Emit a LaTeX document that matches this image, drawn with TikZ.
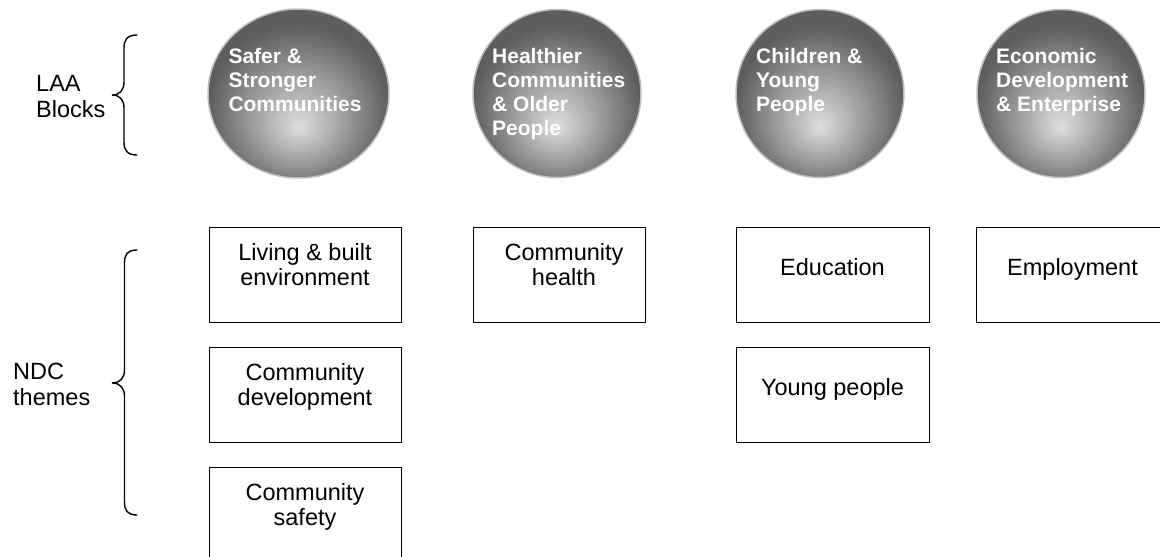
\documentclass[tikz,border=0pt]{standalone}
\usepackage{fontspec}
\setmainfont{Liberation Sans}
\usetikzlibrary{shapes.geometric}
\pgfdeclareradialshading{laaball}{\pgfpoint{0bp}{-10bp}}{color(0bp)=(black!13); color(25bp)=(black!63); color(50bp)=(black!63)}
\newcommand\cenlines[1]{\begin{tabular}[t]{@{}c@{}}#1\end{tabular}}
\newcommand\leftlines[1]{\begin{tabular}[t]{@{}l@{}}#1\end{tabular}}
\begin{document}
\begin{tikzpicture}[x=1pt,y=-1pt,
  ballshape/.style={draw=black!25, line width=1.5pt, shading=laaball, inner sep=0pt},
  balltext/.style={anchor=base west, inner sep=0pt, text=white, font=\fontsize{21}{24}\selectfont\bfseries},
  themebox/.style={draw=black, line width=1.3pt, rectangle, anchor=north west, inner sep=0pt, minimum height=95.5pt},
  boxtext/.style={anchor=base, inner sep=0pt, font=\fontsize{23.5}{25}\selectfont},
  sidelabel/.style={anchor=base west, inner sep=0pt, font=\fontsize{23.5}{26}\selectfont},
  bracepath/.style={draw=black, line width=1.4pt, line cap=round}]
\useasboundingbox (0,0) rectangle (1160,557);
\clip (0,0) rectangle (1160,557);
\fill[white] (0,0) rectangle (1160,557);

% LAA blocks (circles)
\node[ballshape, ellipse, minimum width=181pt, minimum height=169pt] (c1) at (298.5,93.5) {};
\node[ballshape, circle, minimum size=168pt] (c2) at (557,93.5) {};
\node[ballshape, circle, minimum size=168pt] (c3) at (820,93.5) {};
\node[ballshape, circle, minimum size=168pt] (c4) at (1061,93.5) {};

\node[balltext] (ct1) at (228.3,63) {\leftlines{Safer \&\\Stronger\\Communities}};
\node[balltext] (ct2) at (492,63) {\leftlines{Healthier\\Communities\\\& Older\\People}};
\node[balltext] (ct3) at (756,63) {\leftlines{Children \&\\Young\\People}};
\node[balltext] (ct4) at (996,63) {\leftlines{Economic\\Development\\\& Enterprise}};

% NDC themes (boxes)
\node[themebox, minimum width=192pt] (b1) at (209,226.5) {};
\node[themebox, minimum width=172pt] (b2) at (473,226.5) {};
\node[themebox, minimum width=193pt] (b3) at (736,226.5) {};
\node[themebox, minimum width=193pt] (b4) at (976,226.5) {};
\node[themebox, minimum width=192pt] (b5) at (209,346.5) {};
\node[themebox, minimum width=193pt] (b6) at (736,346.5) {};
\node[themebox, minimum width=192pt] (b7) at (209,466.5) {};

\node[boxtext] (bt1) at (305,260) {\cenlines{Living \& built\\environment}};
\node[boxtext] (bt2) at (564,260) {\cenlines{Community\\health}};
\node[boxtext] (bt3) at (832.5,275) {Education};
\node[boxtext] (bt4) at (1072.5,275) {Employment};
\node[boxtext] (bt5) at (305,380) {\cenlines{Community\\development}};
\node[boxtext] (bt6) at (832.5,395) {Young people};
\node[boxtext] (bt7) at (305,500) {\cenlines{Community\\safety}};

% side labels
\node[sidelabel] (laa) at (36,91) {\leftlines{LAA\\Blocks}};
\node[sidelabel] (ndc) at (13,379.5) {\leftlines{NDC\\themes}};

% braces
\coordinate (laatop) at (137,35);
\coordinate (laatip) at (112,95);
\coordinate (laabot) at (137,155);
\path[bracepath] (laatop) .. controls (127,35) and (124,40) .. (124,48)
  -- (124,82) .. controls (124,90) and (120,95) .. (laatip)
  .. controls (120,95) and (124,100) .. (124,108)
  -- (124,142) .. controls (124,150) and (127,155) .. (laabot);

\coordinate (ndctop) at (137,250);
\coordinate (ndctip) at (112,383);
\coordinate (ndcbot) at (137,515);
\path[bracepath] (ndctop) .. controls (127,250) and (124.5,255) .. (124.5,263)
  -- (124.5,370) .. controls (124.5,378) and (120,383) .. (ndctip)
  .. controls (120,383) and (124.5,388) .. (124.5,396)
  -- (124.5,502) .. controls (124.5,510) and (127,515) .. (ndcbot);
\end{tikzpicture}
\end{document}
